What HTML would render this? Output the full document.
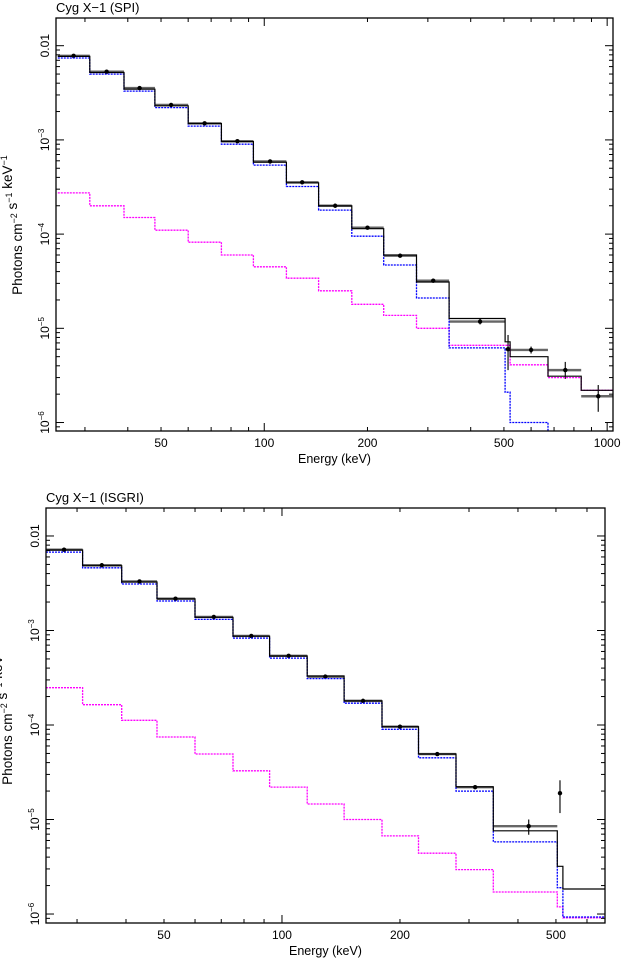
<!DOCTYPE html>
<html><head><meta charset="utf-8"><style>
html,body{margin:0;padding:0;background:#fff;}
svg{display:block;font-family:"Liberation Sans",Helvetica,Arial,sans-serif;}
</style></head><body>
<svg id="chart" width="625" height="960" viewBox="0 0 625 960" xmlns="http://www.w3.org/2000/svg"></svg>
<script>
// ---------- data ----------
const spiEdges = [25,31,39,48,60,75,93,116,144,180,223,278,346,504,521,672,840,1040];
const spiModel = [7.7e-3,5.2e-3,3.45e-3,2.3e-3,1.49e-3,9.6e-4,5.8e-4,3.5e-4,2.0e-4,1.14e-4,6.0e-5,3.1e-5,1.27e-5,7.2e-6,5.0e-6,3.1e-6,2.2e-6];
const spiComp1 = [7.4e-3,5.0e-3,3.3e-3,2.2e-3,1.4e-3,9.0e-4,5.4e-4,3.2e-4,1.8e-4,9.5e-5,4.7e-5,2.1e-5,6.2e-6,2.1e-6,1.0e-6,1e-8,1e-8];
const spiComp2 = [2.74e-4,2.0e-4,1.5e-4,1.1e-4,8.2e-5,6.0e-5,4.5e-5,3.4e-5,2.5e-5,1.8e-5,1.37e-5,1.0e-5,6.6e-6,6.6e-6,4.1e-6,3.0e-6,2.2e-6];
const spiPtE  = [27.8,34.7,43.3,53.5,67,83.5,104,129,161,200,249,311,426,514,600,755,942];
const spiPtY  = [7.8e-3,5.3e-3,3.55e-3,2.35e-3,1.5e-3,9.7e-4,5.9e-4,3.55e-4,2.0e-4,1.17e-4,5.9e-5,3.2e-5,1.18e-5,6.0e-6,5.9e-6,3.6e-6,1.9e-6];
const spiPtYlo= [7.6e-3,5.2e-3,3.48e-3,2.3e-3,1.47e-3,9.5e-4,5.8e-4,3.45e-4,1.95e-4,1.13e-4,5.7e-5,3.05e-5,1.1e-5,3.6e-6,5.4e-6,2.9e-6,1.3e-6];
const spiPtYhi= [8.0e-3,5.4e-3,3.62e-3,2.4e-3,1.53e-3,9.9e-4,6.0e-4,3.65e-4,2.05e-4,1.21e-4,6.1e-5,3.35e-5,1.26e-5,8.5e-6,6.4e-6,4.4e-6,2.5e-6];
const spiPtXlo= [25,31,39,48,60,75,93,116,144,180,223,278,346,504,521,672,840];
const spiPtXhi= [31,39,48,60,75,93,116,144,180,223,278,346,504,521,672,840,1040];

const isgEdges = [25,31,39,48,60,75,93,116,144,180,223,278,346,504,521,667];
const isgModel = [7.1e-3,4.85e-3,3.26e-3,2.16e-3,1.38e-3,8.7e-4,5.37e-4,3.3e-4,1.8e-4,9.6e-5,4.93e-5,2.22e-5,7.6e-6,3.2e-6,1.84e-6];
const isgComp1 = [6.75e-3,4.6e-3,3.1e-3,2.05e-3,1.31e-3,8.3e-4,5.1e-4,3.1e-4,1.7e-4,9.0e-5,4.5e-5,2.0e-5,5.8e-6,1.9e-6,9.3e-7];
const isgComp2 = [2.48e-4,1.64e-4,1.12e-4,7.46e-5,4.93e-5,3.28e-5,2.2e-5,1.46e-5,1.0e-5,6.7e-6,4.4e-6,2.95e-6,1.71e-6,1.19e-6,9.1e-7];
const isgPtE  = [27.8,34.7,43.3,53.5,67,83.5,104,129,161,200,249,311,426,512];
const isgPtY  = [7.16e-3,4.9e-3,3.3e-3,2.17e-3,1.39e-3,8.76e-4,5.4e-4,3.25e-4,1.8e-4,9.6e-5,4.93e-5,2.2e-5,8.5e-6,1.9e-5];
const isgPtYlo= [7.0e-3,4.8e-3,3.23e-3,2.12e-3,1.36e-3,8.55e-4,5.25e-4,3.15e-4,1.75e-4,9.3e-5,4.75e-5,2.1e-5,6.9e-6,1.17e-5];
const isgPtYhi= [7.3e-3,5.0e-3,3.37e-3,2.22e-3,1.42e-3,8.95e-4,5.55e-4,3.35e-4,1.85e-4,9.9e-5,5.1e-5,2.3e-5,1.0e-5,2.6e-5];
const isgPtXlo= [25,31,39,48,60,75,93,116,144,180,223,278,346,510];
const isgPtXhi= [31,39,48,60,75,93,116,144,180,223,278,346,504,514];

const yTickExps = [-2,-3,-4,-5,-6];
const spiXLabels = [50,100,200,500,1000];
const isgXLabels = [50,100,200,500];

const NS="http://www.w3.org/2000/svg";
const root=document.getElementById('chart');
function el(tag,attrs,parent){const e=document.createElementNS(NS,tag);for(const k in attrs)e.setAttribute(k,attrs[k]);(parent||root).appendChild(e);return e;}

function panel(p){
  const g=el('g',{});
  
  
  const L=p.box[0],T=p.box[1],R=p.box[2],B=p.box[3];
  const lx0=Math.log10(p.xmin),lx1=Math.log10(p.xmax);
  const X=e=>L+(Math.log10(e)-lx0)/(lx1-lx0)*(R-L);
  const Y=v=>T+(p.ytop-Math.log10(v))/(p.ytop-p.ybot)*(B-T);
  const clipId=p.name+'-clip';
  const defs=el('defs',{},g);
  const cp=el('clipPath',{id:clipId},defs);
  el('rect',{x:L,y:T,width:R-L,height:B-T},cp);
  const t=el('text',{x:L,y:T-6,'font-size':13,fill:'#000'},g);
  t.textContent=p.title;
  
  
  function step(vals,edges,attrs,nm){
    let d='';
    for(let i=0;i<vals.length;i++){
      const x0=X(edges[i]),x1=X(edges[i+1]),y=Y(vals[i]);
      d+=(i===0?'M':'L')+x0.toFixed(1)+','+y.toFixed(1)+'L'+x1.toFixed(1)+','+y.toFixed(1);
    }
    const a=Object.assign({d:d,fill:'none','clip-path':'url(#'+clipId+')'},attrs);
    const path=el('path',a,g);
    
    
  }
  const dg=el('g',{'clip-path':'url(#'+clipId+')'},g);
  
  
  for(let i=0;i<p.ptE.length;i++){
    const hb=el('line',{x1:X(p.ptXlo[i]),x2:X(p.ptXhi[i]),y1:Y(p.ptY[i]),y2:Y(p.ptY[i]),stroke:'#666','stroke-width':2.4},dg);
    
    
  }
  step(p.comp2,p.edges,{stroke:'#ff00ff','stroke-width':1.3,'stroke-dasharray':'2,1'},'component-2-line');
  step(p.comp1,p.edges,{stroke:'#0000ff','stroke-width':1.3,'stroke-dasharray':'2,1'},'component-1-line');
  step(p.model,p.edges,{stroke:'#000','stroke-width':1.2},'total-model-line');
  for(let i=0;i<p.ptE.length;i++){
    const x=X(p.ptE[i]);
    const vb=el('line',{x1:x,x2:x,y1:Y(p.ptYlo[i]),y2:Y(p.ptYhi[i]),stroke:'#222','stroke-width':1.3},dg);
    
    
    const c=el('circle',{cx:x,cy:Y(p.ptY[i]),r:2.2,fill:'#000'},dg);
    
    
  }
  const fr=el('rect',{x:L,y:T,width:R-L,height:B-T,fill:'none',stroke:'#000','stroke-width':1.3},g);
  
  
  for(let e=-7;e<=-1;e++){
    for(let m=1;m<10;m++){
      const v=m*Math.pow(10,e);const lv=Math.log10(v);
      if(lv>p.ytop||lv<p.ybot)continue;
      const y=Y(v),len=m===1?8:4;
      el('line',{x1:L,x2:L+len,y1:y,y2:y,stroke:'#000','stroke-width':1},g);
      el('line',{x1:R,x2:R-len,y1:y,y2:y,stroke:'#000','stroke-width':1},g);
    }
  }
  yTickExps.forEach(ex=>{
    const y=Y(Math.pow(10,ex));
    const tx=el('text',{transform:'translate('+(L-7)+','+y+') rotate(-90)','text-anchor':'middle','font-size':12,fill:'#000'},g);
    
    
    if(ex===-2){tx.textContent='0.01';}
    else{const a=el('tspan',{},tx);a.textContent='10';const b=el('tspan',{dy:-5,'font-size':8},tx);b.textContent='\u2212'+(-ex);}
  });
  for(let e=1;e<=3;e++){
    for(let m=1;m<10;m++){
      const v=m*Math.pow(10,e);if(v<p.xmin||v>p.xmax)continue;
      const x=X(v),len=m===1?8:4;
      el('line',{x1:x,x2:x,y1:B,y2:B-len,stroke:'#000','stroke-width':1},g);
      el('line',{x1:x,x2:x,y1:T,y2:T+len,stroke:'#000','stroke-width':1},g);
    }
  }
  p.xl.forEach(v=>{
    const tx=el('text',{x:X(v),y:B+16,'text-anchor':'middle','font-size':12,fill:'#000'},g);
    tx.textContent=String(v);
    
    
  });
  const xt=el('text',{x:(L+R)/2,y:B+32,'text-anchor':'middle','font-size':12.5,fill:'#000'},g);
  xt.textContent='Energy (keV)';
  
  
  const yt=el('text',{transform:'translate('+p.ytx+','+p.ytc+') rotate(-90)','text-anchor':'middle','font-size':13.5,fill:'#000'},g);
  
  
  const parts=[['Photons cm',0],['\u22122',1],[' s',0],['\u22121',1],[' keV',0],['\u22121',1]];
  parts.forEach(pt=>{const s=el('tspan',pt[1]?{'font-size':9,dy:-5}:{dy:pt[2]||0},yt);s.textContent=pt[0];if(pt[1]){const r=el('tspan',{dy:5},yt);r.textContent='';}});
}

panel({name:'spi-panel',title:'Cyg X\u22121 (SPI)',box:[56,18,613,431],xmin:24.7,xmax:1040,ytop:-1.706,ybot:-6.09,
  edges:spiEdges,model:spiModel,comp1:spiComp1,comp2:spiComp2,ptE:spiPtE,ptY:spiPtY,ptYlo:spiPtYlo,ptYhi:spiPtYhi,ptXlo:spiPtXlo,ptXhi:spiPtXhi,xl:spiXLabels,ytx:22,ytc:225});
panel({name:'isgri-panel',title:'Cyg X\u22121 (ISGRI)',box:[46,508,605,923],xmin:25,xmax:667,ytop:-1.704,ybot:-6.095,
  edges:isgEdges,model:isgModel,comp1:isgComp1,comp2:isgComp2,ptE:isgPtE,ptY:isgPtY,ptYlo:isgPtYlo,ptYhi:isgPtYhi,ptXlo:isgPtXlo,ptXhi:isgPtXhi,xl:isgXLabels,ytx:12,ytc:715});
</script>
</body></html>
